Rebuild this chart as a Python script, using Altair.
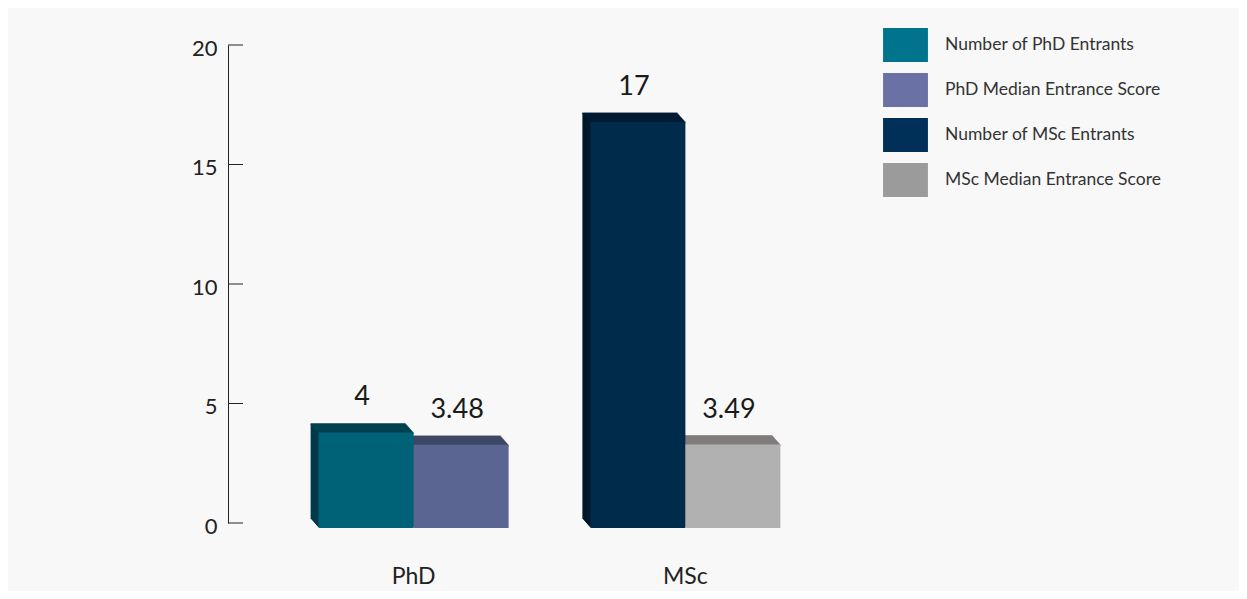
import altair as alt
import pandas as pd

# ---- data ----
categories = ["PhD", "MSc"]
groups = ["PhD", "PhD", "MSc", "MSc"]
series = [
    "Number of PhD Entrants",
    "PhD Median Entrance Score",
    "Number of MSc Entrants",
    "MSc Median Entrance Score",
]
values = [4, 3.48, 17, 3.49]
value_labels = ["4", "3.48", "17", "3.49"]
legend_colors = ["#00748c", "#6a72a5", "#003057", "#9b9b9b"]
front_colors = ["#006277", "#5b6592", "#002b4b", "#b1b1b1"]
top_colors = ["#00414f", "#3f4666", "#001b33", "#807c7c"]
side_colors = ["#00394a", "#3a4060", "#00172b", "#5e5e5e"]
y_ticks = [0, 5, 10, 15, 20]

slot = [groups[:i].count(g) for i, g in enumerate(groups)]
df = pd.DataFrame(dict(group=groups, series=series, value=values, label=value_labels,
                       front=front_colors, top=top_colors, side=side_colors, slot=slot))
ticks_df = pd.DataFrame({"value": y_ticks})

FONT = "Lato"
W, H = 643, 478
BAR_W = 95
DEPTH_X, DEPTH_Y = 8, 9
FRONT_SHIFT = 5
STEPS = 9

x_enc = alt.X("group:N",
              scale=alt.Scale(domain=categories, paddingInner=0.3, paddingOuter=0.333),
              axis=alt.Axis(title=None, domain=False, ticks=False, labelAngle=0,
                            labelFont=FONT, labelFontSize=23, labelColor="#222",
                            labelPadding=42))
y_enc = alt.Y("value:Q", stack=None,
              scale=alt.Scale(domain=[0, 20], nice=False, zero=True),
              axis=alt.Axis(title=None, values=y_ticks, grid=False, ticks=False,
                            domain=True, domainColor="#222", domainWidth=1,
                            labelFont=FONT, labelFontSize=22, labelColor="#222",
                            labelPadding=11, labelOffset=3))
y_zero = alt.Y2(datum=0)

base = alt.Chart(df)
layers = []

# side faces (extrusion)
for s in (0, 1):
    xo = (s - 0.5) * BAR_W
    sub = base.transform_filter(alt.datum.slot == s)
    for k in range(1, STEPS + 1):
        dx = xo - DEPTH_X * k / STEPS
        dy = FRONT_SHIFT - DEPTH_Y * k / STEPS
        layers.append(
            sub.mark_bar(width=BAR_W, xOffset=dx, yOffset=dy, y2Offset=dy)
            .encode(x=x_enc, y=y_enc, y2=y_zero, color=alt.Color("side:N", scale=None))
        )

# top faces
for s in (0, 1):
    xo = (s - 0.5) * BAR_W
    sub = base.transform_filter(alt.datum.slot == s)
    for k in range(0, STEPS + 1):
        dx = xo - DEPTH_X * k / STEPS
        dy = FRONT_SHIFT - DEPTH_Y * k / STEPS
        layers.append(
            sub.mark_bar(width=BAR_W, xOffset=dx, yOffset=dy, y2Offset=dy + 1.6)
            .encode(x=x_enc, y=y_enc, y2=alt.Y2("value:Q"),
                    color=alt.Color("top:N", scale=None))
        )

# front faces
for s in (0, 1):
    xo = (s - 0.5) * BAR_W
    sub = base.transform_filter(alt.datum.slot == s)
    layers.append(
        sub.mark_bar(width=BAR_W, xOffset=xo, yOffset=FRONT_SHIFT, y2Offset=FRONT_SHIFT)
        .encode(x=x_enc, y=y_enc, y2=y_zero, color=alt.Color("front:N", scale=None))
    )

# legend carrier (zero-height bars)
layers.append(
    base.mark_bar(width=BAR_W).encode(
        x=x_enc, y=y_enc, y2=alt.Y2("value:Q"),
        color=alt.Color("series:N",
                        scale=alt.Scale(domain=series, range=legend_colors),
                        legend=alt.Legend(title=None, orient="none",
                                          legendX=660.5, legendY=-17,
                                          symbolType="M-1.32,-1H1.32V1H-1.32Z",
                                          symbolSize=1156, symbolStrokeWidth=0,
                                          labelFont=FONT, labelFontSize=17.5,
                                          labelColor="#333", labelOffset=22.5,
                                          rowPadding=11, padding=0, labelLimit=400)),
    )
)

# value labels
for s in (0, 1):
    xo = (s - 0.5) * BAR_W
    sub = base.transform_filter(alt.datum.slot == s)
    layers.append(
        sub.mark_text(dx=xo - 4, dy=-22, baseline="alphabetic", align="center",
                      font=FONT, fontSize=27, color="#1a1a1a")
        .encode(x=x_enc, y=y_enc, text="label:N")
    )

# inward tick marks on the y axis
layers.append(
    alt.Chart(ticks_df).mark_rule(color="#222", strokeWidth=1)
    .encode(y=y_enc, x=alt.value(0), x2=alt.value(15))
)

chart = (
    alt.layer(*layers)
    .resolve_scale(color="independent")
    .properties(width=W, height=H,
                autosize=alt.AutoSizeParams(type="none"),
                padding={"left": 220, "top": 37, "right": 368, "bottom": 68})
    .configure(background="#f8f8f8")
    .configure_view(stroke=None)
)

chart.save("out.html", embed_options={"renderer": "svg", "actions": False})
